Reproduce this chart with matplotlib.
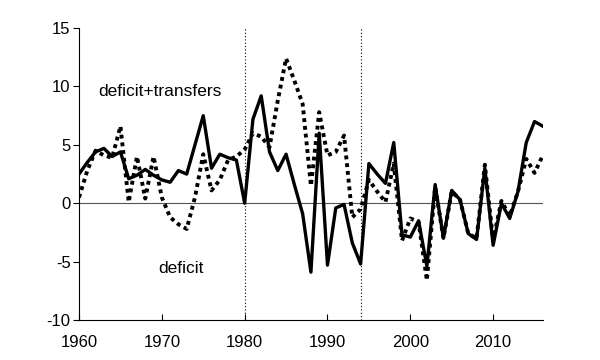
import matplotlib
matplotlib.use("Agg")
import matplotlib.pyplot as plt

plt.rcParams["font.family"] = ["Liberation Sans", "DejaVu Sans"]
plt.rcParams["axes.unicode_minus"] = False

# years 1960..2016
years = list(range(1960, 2017))

# deficit (solid line)
deficit = [2.5, 3.5, 4.4, 4.7, 4.0, 4.4, 2.1, 2.4, 2.9, 2.4,
           2.0, 1.8, 2.8, 2.5, 5.0, 7.5, 3.0, 4.2, 3.9, 3.7,
           0.0, 7.2, 9.2, 4.4, 2.8, 4.2, 1.6, -0.9, -5.9, 6.0,
           -5.3, -0.4, -0.1, -3.4, -5.2, 3.4, 2.5, 1.7, 5.2, -2.7,
           -2.9, -1.5, -5.4, 1.6, -3.0, 1.1, 0.3, -2.6, -3.1, 3.0,
           -3.6, 0.0, -1.3, 1.0, 5.2, 7.0, 6.6]

# deficit + transfers (dotted line)
deficit_transfers = [0.5, 2.8, 4.5, 4.1, 3.9, 6.6, 0.1, 4.0, 0.4, 4.0,
                     0.5, -1.2, -1.8, -2.2, 0.5, 4.2, 1.1, 2.0, 3.7, 4.0,
                     4.6, 6.0, 5.7, 4.8, 8.8, 12.4, 10.5, 8.5, 1.5, 7.8,
                     4.1, 4.4, 5.8, -1.2, -0.5, 2.0, 1.0, 0.1, 3.4, -3.2,
                     -1.3, -1.6, -6.6, 1.4, -3.0, 1.0, 0.3, -2.6, -3.0, 3.3,
                     -3.2, 0.2, -1.1, 1.0, 3.8, 2.6, 4.1]

vlines = [1980, 1994]

fig = plt.figure(figsize=(6, 3.6), dpi=100)
ax = fig.add_axes([0.1317, 0.111, 0.773, 0.811])

ax.axhline(0, color="#555555", linewidth=0.8, zorder=1)
for v in vlines:
    ax.axvline(v, color="black", linestyle=(0, (1, 2)), linewidth=0.8, zorder=1)

ax.plot(years, deficit_transfers, color="black", linestyle=(0, (1, 1)), linewidth=2.8, zorder=2)
ax.plot(years, deficit, color="black", linestyle="-", linewidth=2.4, zorder=3)

ax.set_xlim(1960, 2016)
ax.set_ylim(-10, 15)
ax.set_xticks(range(1960, 2011, 10))
ax.set_yticks(range(-10, 16, 5))

ax.spines["top"].set_visible(False)
ax.spines["right"].set_visible(False)
ax.tick_params(axis="y", direction="out", length=4, labelsize=12, pad=2)
ax.tick_params(axis="x", direction="in", length=4, labelsize=12, pad=11)

ax.text(1962.3, 9.6, "deficit+transfers", fontsize=12.5, ha="left", va="center")
ax.text(1969.6, -5.6, "deficit", fontsize=12.5, ha="left", va="center")

fig.savefig("out.png", dpi=100)
